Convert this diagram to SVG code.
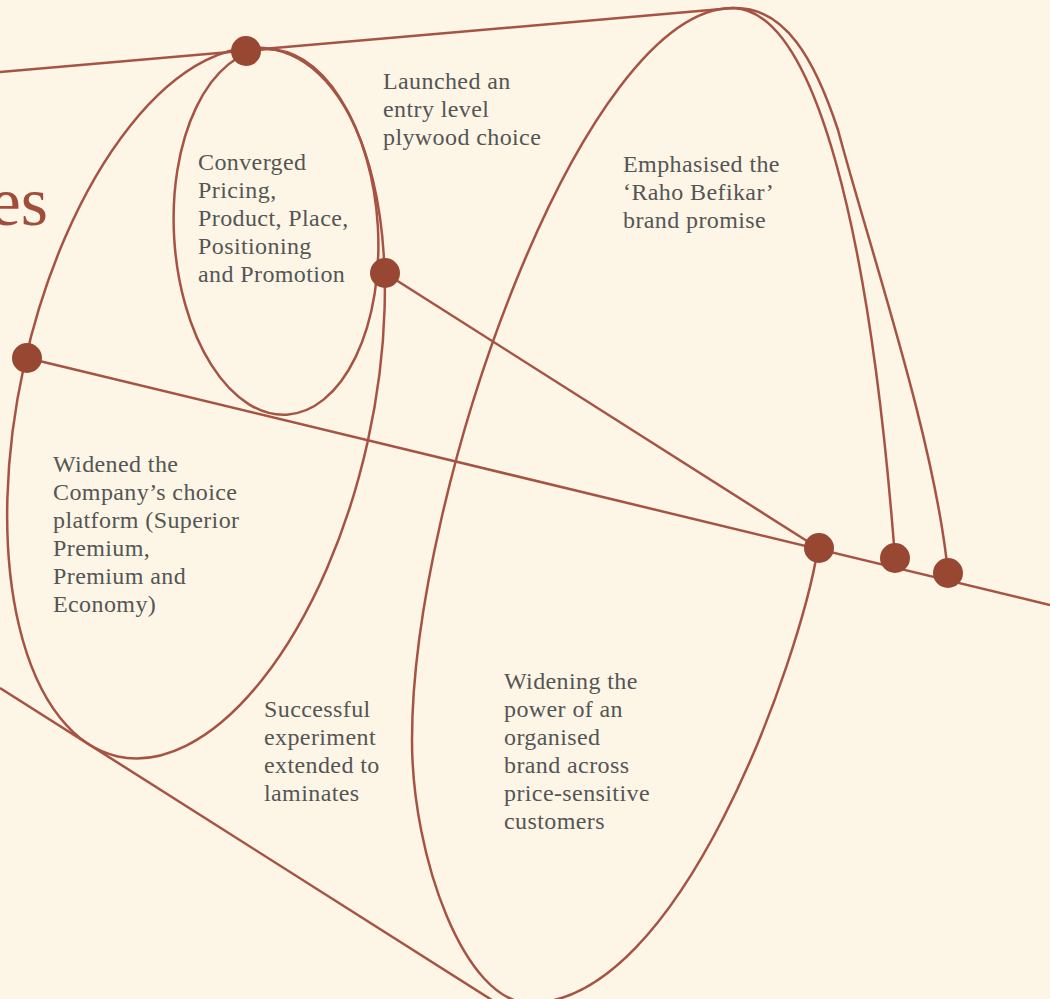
<svg xmlns="http://www.w3.org/2000/svg" width="1050" height="999" viewBox="0 0 1050 999">
<style>
.ln{fill:none;stroke:#a65343;stroke-width:2.5;stroke-linejoin:round}
.dot{fill:#984732}
.lbl{font-family:"Liberation Serif","Times New Roman",serif;font-size:24px;letter-spacing:0.4px;fill:#555555}
.ttl{font-family:"Liberation Serif","Times New Roman",serif;font-size:70px;fill:#a04d3b}
</style>
<rect x="0" y="0" width="1050" height="999" fill="#fdf6e6"/>
<text class="ttl" x="48" y="225" text-anchor="end">es</text>
<g id="connectors">
<line class="ln" x1="0" y1="72" x2="733" y2="8"/>
<line class="ln" x1="385" y1="273" x2="818" y2="548"/>
<line class="ln" x1="27" y1="358" x2="1050" y2="605"/>
<line class="ln" x1="0" y1="688" x2="495" y2="1002"/>
<ellipse class="ln" cx="196" cy="403" rx="176" ry="362" transform="rotate(12.5 196 403)"/>
<ellipse class="ln" cx="276" cy="232" rx="102" ry="183" transform="rotate(-3.4 276 232)"/>
<path class="ln" d="M818,548 C800,660 680,1003 530,1003 C465,1003 412,858 412,740 C412,490 583,8 733,8 C815,10 870,230 895,558"/>
<path class="ln" d="M733,8 C785,6 815,60 838,130 C870,250 935,440 948,573"/>
</g>
<g id="node-top"><circle class="dot" cx="246" cy="51" r="15"/></g>
<g id="node-mid"><circle class="dot" cx="385" cy="273" r="15"/></g>
<g id="node-left"><circle class="dot" cx="27" cy="358" r="15"/></g>
<g id="node-r1"><circle class="dot" cx="819" cy="548" r="15"/></g>
<g id="node-r2"><circle class="dot" cx="895" cy="558" r="15"/></g>
<g id="node-r3"><circle class="dot" cx="948" cy="573" r="15"/></g>
<g id="label-launched"><text class="lbl" x="383" y="89">Launched an<tspan x="383" y="117">entry level</tspan><tspan x="383" y="145">plywood choice</tspan></text></g>
<g id="label-converged"><text class="lbl" x="198" y="170">Converged<tspan x="198" y="198">Pricing,</tspan><tspan x="198" y="226">Product, Place,</tspan><tspan x="198" y="254">Positioning</tspan><tspan x="198" y="282">and Promotion</tspan></text></g>
<g id="label-emphasised"><text class="lbl" x="623" y="172">Emphasised the<tspan x="623" y="200">‘Raho Befikar’</tspan><tspan x="623" y="228">brand promise</tspan></text></g>
<g id="label-widened"><text class="lbl" x="53" y="472">Widened the<tspan x="53" y="500">Company’s choice</tspan><tspan x="53" y="528">platform (Superior</tspan><tspan x="53" y="556">Premium,</tspan><tspan x="53" y="584">Premium and</tspan><tspan x="53" y="612">Economy)</tspan></text></g>
<g id="label-successful"><text class="lbl" x="264" y="717">Successful<tspan x="264" y="745">experiment</tspan><tspan x="264" y="773">extended to</tspan><tspan x="264" y="801">laminates</tspan></text></g>
<g id="label-widening"><text class="lbl" x="504" y="689">Widening the<tspan x="504" y="717">power of an</tspan><tspan x="504" y="745">organised</tspan><tspan x="504" y="773">brand across</tspan><tspan x="504" y="801">price-sensitive</tspan><tspan x="504" y="829">customers</tspan></text></g>
</svg>
